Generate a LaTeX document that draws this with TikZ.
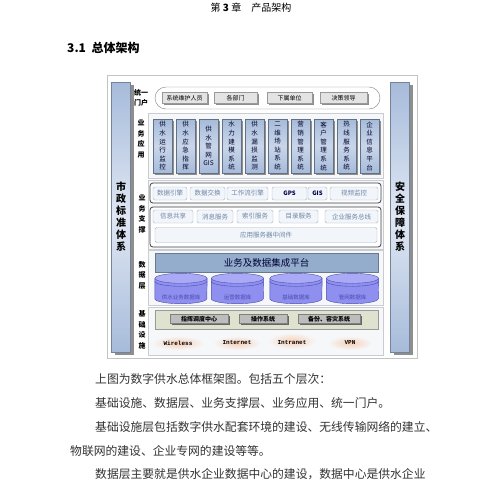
\documentclass[tikz,border=0pt]{standalone}
\usepackage{fontspec}
\setmainfont{Noto Sans CJK SC}
\newfontfamily\netfont{Liberation Mono}
\usepackage{xcolor}
\usepackage{tikz}
\usetikzlibrary{positioning,shadows}
\definecolor{framegray}{HTML}{C4C4C4}
\definecolor{barblue}{HTML}{A6BBDA}
\definecolor{barlight}{HTML}{E0E7F3}
\definecolor{shadowgray}{HTML}{8E8E8E}
\definecolor{secfill}{HTML}{F6F7F9}
\definecolor{secline}{HTML}{C9CCD2}
\definecolor{portalbox}{HTML}{E3E3E3}
\definecolor{svcline}{HTML}{A3B5CD}
\definecolor{svcfill}{HTML}{F2F5F9}
\definecolor{svctext}{HTML}{6D85A6}
\definecolor{platblue}{HTML}{94ADCC}
\definecolor{dbfill}{HTML}{8F8FF0}
\definecolor{dbtop}{HTML}{A9A9F6}
\definecolor{dbline}{HTML}{4B4BB0}
\definecolor{infrafill}{HTML}{DFE2CE}
\definecolor{infrabox}{HTML}{BDBDBD}
\definecolor{cloud}{HTML}{F7CFB5}
\tikzstyle{pagehead} = [inner sep = 0pt, font = \fontsize{10}{12}\selectfont]
\tikzstyle{sechead} = [anchor = west, inner sep = 0pt, font = \fontsize{12}{14}\selectfont\bfseries]
\tikzstyle{outerframe} = [rectangle, draw = framegray, fill = white, minimum width = 310pt, minimum height = 283pt]
\tikzstyle{sidebar} = [rectangle, draw = barblue!70!black, top color = barblue, bottom color = barblue, middle color = barlight, minimum width = 19pt, minimum height = 270pt, align = center, font = \fontsize{10}{12}\selectfont\bfseries, drop shadow = {shadow xshift = 3pt, shadow yshift = -3pt, fill = shadowgray, opacity = 1}]
\tikzstyle{layer} = [rectangle, draw = secline, fill = secfill, minimum width = 235pt]
\tikzstyle{layername} = [align = center, inner sep = 0pt, font = \fontsize{7}{10.5}\selectfont\bfseries]
\tikzstyle{capsule} = [rectangle, rounded corners = 11pt, draw = gray, fill = white, minimum width = 225pt, minimum height = 22pt]
\tikzstyle{portalitem} = [rectangle, draw = gray!80, fill = portalbox, minimum height = 11pt, inner sep = 0pt, font = \fontsize{6}{7}\selectfont, drop shadow = {shadow xshift = 1.5pt, shadow yshift = -1.5pt, fill = shadowgray, opacity = 1}]
\tikzstyle{appcol} = [rectangle, draw = barblue!60!black, top color = barblue, bottom color = barblue, middle color = barlight!60!barblue, minimum width = 19pt, minimum height = 54pt, inner sep = 0pt, align = center, font = \fontsize{6.5}{8.6}\selectfont, text = black!85!blue, drop shadow = {shadow xshift = 2pt, shadow yshift = -2pt, fill = shadowgray, opacity = 1}]
\tikzstyle{svcgroup} = [rectangle, rounded corners = 3pt, draw = black!75, thick, fill = white, minimum width = 231pt]
\tikzstyle{svcitem} = [rectangle, rounded corners = 1.5pt, draw = svcline, fill = svcfill, text = svctext, minimum height = 13pt, inner sep = 0pt, font = \fontsize{6.5}{8}\selectfont]
\tikzstyle{gpsitem} = [svcitem, text = black!70!blue, font = \fontsize{6}{7}\selectfont\bfseries]
\tikzstyle{platform} = [rectangle, draw = platblue!70!black, fill = platblue, minimum width = 223pt, minimum height = 19pt, text = black!80!blue, font = \fontsize{9.5}{11}\selectfont]
\tikzstyle{dbbox} = [rectangle, minimum width = 52pt, minimum height = 30pt, inner sep = 0pt]
\tikzstyle{dbbody} = [draw = dbline, fill = dbfill]
\tikzstyle{dbcap} = [draw = dbline, fill = dbtop]
\tikzstyle{dbname} = [inner sep = 0pt, text = dbline, font = \fontsize{5.5}{6}\selectfont]
\tikzstyle{infrabase} = [rectangle, draw = black!40, fill = infrafill, minimum width = 223pt, minimum height = 19pt]
\tikzstyle{infraitem} = [rectangle, draw = black!50, fill = infrabox, minimum height = 9pt, inner sep = 0pt, font = \fontsize{6}{7}\selectfont\bfseries, drop shadow = {shadow xshift = 1.5pt, shadow yshift = -1.5pt, fill = black!60, opacity = 1}]
\tikzstyle{netname} = [inner sep = 0pt, font = \netfont\fontsize{6}{7}\selectfont\bfseries]
\tikzstyle{bodyline} = [anchor = west, inner sep = 0pt, text = black!80, font = \fontsize{11.8}{14}\selectfont]

\begin{document}
\begin{tikzpicture}[x = 1pt, y = -1pt]
        \useasboundingbox[fill = white] (0,0) rectangle (480,480);
        \node (chap) [pagehead] at (251,8) {第 \textbf{3} 章\quad 产品架构};
        \node (sect) [sechead] at (67,48) {3.1\ \ 总体架构};

        \node (frame) [outerframe] at (262,216.5) {};
        \node (std) [sidebar] at (121,217) {市\\政\\标\\准\\体\\系};
        \node (safe) [sidebar] at (400,217) {安\\全\\保\\障\\体\\系};

        \node (appL) [layer, minimum height = 65pt] at (265.5,145.5) {};
        \node (supL) [layer, minimum height = 69pt] at (265.5,214.5) {};
        \node (datL) [layer, minimum height = 55pt] at (265.5,277.5) {};
        \node (infL) [layer, minimum height = 48pt] at (265.5,331) {};

        \node (portalN) [layername] at (141,98) {统一\\门户};
        \node (appN) [layername] at (141,139) {业\\务\\应\\用};
        \node (supN) [layername] at (142,214) {业\\务\\支\\撑};
        \node (datN) [layername] at (142,275) {数\\据\\层};
        \node (infN) [layername] at (142,330) {基\\础\\设\\施};

        % unified portal
        \node (portal) [capsule] at (267.5,98) {};
        \node (P1) [portalitem, minimum width = 45pt] at (184.5,98) {系统维护人员};
        \node (P2) [portalitem, minimum width = 43pt] at (235.5,98) {各部门};
        \node (P3) [portalitem, minimum width = 45pt] at (289.5,98) {下属单位};
        \node (P4) [portalitem, minimum width = 47pt] at (343.5,98) {决策领导};

        % business applications
        \node (A1) [appcol] at (162.5,146) {供\\水\\运\\行\\监\\控};
        \node (A2) [appcol, right of = A1, node distance = 23pt] {供\\水\\应\\急\\指\\挥};
        \node (A3) [appcol, right of = A2, node distance = 23pt] {供\\水\\管\\网\\GIS};
        \node (A4) [appcol, right of = A3, node distance = 23pt] {水\\力\\建\\模\\系\\统};
        \node (A5) [appcol, right of = A4, node distance = 23pt] {供\\水\\漏\\损\\监\\测};
        \node (A6) [appcol, right of = A5, node distance = 23pt] {二\\维\\场\\站\\系\\统};
        \node (A7) [appcol, right of = A6, node distance = 23pt] {营\\销\\管\\理\\系\\统};
        \node (A8) [appcol, right of = A7, node distance = 23pt] {客\\户\\管\\理\\系\\统};
        \node (A9) [appcol, right of = A8, node distance = 23pt] {热\\线\\服\\务\\系\\统};
        \node (A10) [appcol, right of = A9, node distance = 23pt] {企\\业\\信\\息\\平\\台};

        % business support
        \node (S0) [svcgroup, minimum height = 20pt] at (265.5,193) {};
        \node (S1) [svcitem, minimum width = 34pt] at (170,193.5) {数据引擎};
        \node (S2) [svcitem, minimum width = 35pt] at (207.5,193.5) {数据交换};
        \node (S3) [svcitem, minimum width = 41pt] at (247.5,193.5) {工作流引擎};
        \node (S4) [gpsitem, minimum width = 35pt] at (289.5,193.5) {GPS};
        \node (S5) [gpsitem, minimum width = 19pt] at (317.5,193.5) {GIS};
        \node (S6) [svcitem, minimum width = 48pt] at (354,193.5) {视频监控};
        \node (T0) [svcgroup, minimum height = 40pt] at (265.5,227) {};
        \node (T1) [svcitem, minimum width = 40pt] at (173,216.5) {信息共享};
        \node (T2) [svcitem, minimum width = 36pt] at (215,216.5) {消息服务};
        \node (T3) [svcitem, minimum width = 36pt] at (255,216.5) {索引服务};
        \node (T4) [svcitem, minimum width = 39pt] at (298.5,216.5) {目录服务};
        \node (T5) [svcitem, minimum width = 53pt] at (351.5,216.5) {企业服务总线};
        \node (T6) [svcitem, minimum width = 222pt, minimum height = 15pt] at (266,235) {应用服务器中间件};

        % data layer
        \node (plat) [platform] at (266.5,262.5) {业务及数据集成平台};
        \node (D1) [dbbox] at (181,288.5) {};
        \node (D2) [dbbox] at (237.5,288.5) {};
        \node (D3) [dbbox] at (296,288.5) {};
        \node (D4) [dbbox] at (352.5,288.5) {};
        \foreach \db in {D1,D2,D3,D4} {
            \draw[dbbody] ([yshift = -5pt]\db.north west) -- ([yshift = 5pt]\db.south west) arc[start angle = 180, end angle = 360, x radius = 26pt, y radius = 5pt] -- ([yshift = -5pt]\db.north east) -- cycle;
            \draw[dbcap] ([yshift = -5pt]\db.north) ellipse [x radius = 26pt, y radius = 5pt];
            \draw[dbline] ([yshift = -8pt]\db.north west) arc[start angle = 180, end angle = 360, x radius = 26pt, y radius = 5pt];
        }
        \node (D1t) [dbname] at (181,297) {供水业务数据库};
        \node (D2t) [dbname] at (237.5,297) {运营数据库};
        \node (D3t) [dbname] at (296,297) {基础数据库};
        \node (D4t) [dbname] at (352.5,297) {管网数据库};

        % infrastructure
        \node (base) [infrabase] at (266.5,319.5) {};
        \node (I1) [infraitem, minimum width = 58pt] at (199,319) {指挥调度中心};
        \node (I2) [infraitem, minimum width = 48pt] at (263,319) {操作系统};
        \node (I3) [infraitem, minimum width = 62pt] at (329,319) {备份、容灾系统};
        \shade[inner color = cloud, outer color = secfill] (178,343) ellipse [x radius = 26pt, y radius = 7pt];
        \shade[inner color = cloud, outer color = secfill] (237,343) ellipse [x radius = 24pt, y radius = 7pt];
        \shade[inner color = cloud, outer color = secfill] (292,341) ellipse [x radius = 24pt, y radius = 8pt];
        \shade[inner color = cloud, outer color = secfill] (350,343) ellipse [x radius = 22pt, y radius = 7pt];
        \node (N1) [netname] at (178,343) {Wireless};
        \node (N2) [netname] at (237,343) {Internet};
        \node (N3) [netname] at (292,343) {Intranet};
        \node (N4) [netname] at (350,343) {VPN};

        \node (L1) [bodyline] at (95,379) {上图为数字供水总体框架图。包括五个层次：};
        \node (L2) [bodyline] at (95,403) {基础设施、数据层、业务支撑层、业务应用、统一门户。};
        \node (L3) [bodyline] at (95,427) {基础设施层包括数字供水配套环境的建设、无线传输网络的建立、};
        \node (L4) [bodyline] at (70,451) {物联网的建设、企业专网的建设等等。};
        \node (L5) [bodyline] at (95,474) {数据层主要就是供水企业数据中心的建设，数据中心是供水企业};
    \end{tikzpicture}
\end{document}
